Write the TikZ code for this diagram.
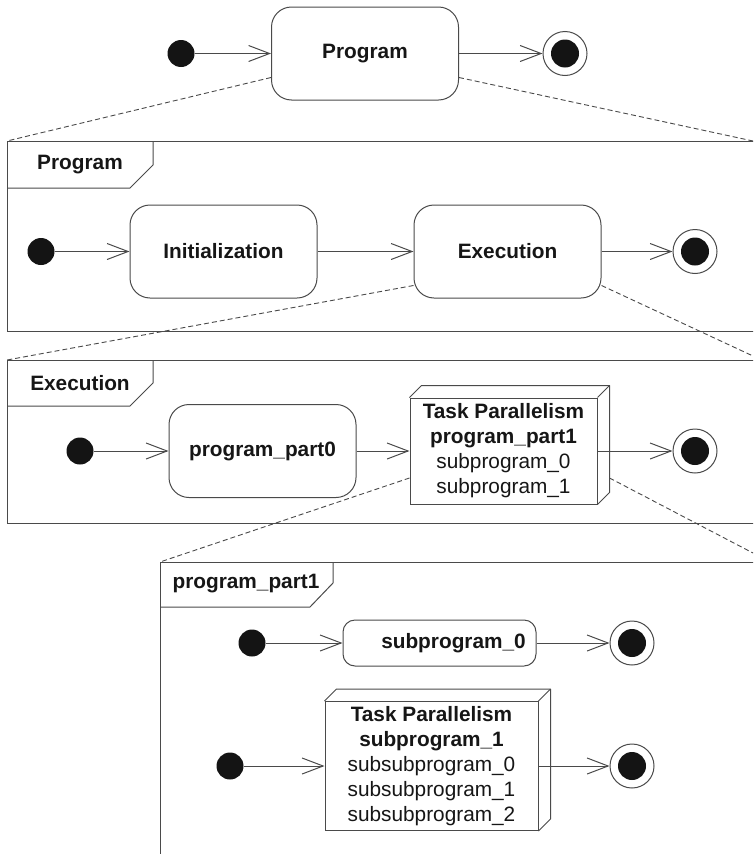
\documentclass[tikz,border=0pt]{standalone}
\usepackage{fontspec}
\setmainfont{Liberation Sans}
\usetikzlibrary{arrows.meta}
\definecolor{ln}{HTML}{4A4A4A}
\definecolor{dotc}{HTML}{141414}
\definecolor{txt}{HTML}{161616}
\begin{document}
\begin{tikzpicture}[x=1pt,y=-1pt,
  ink/.style={draw=ln, line width=1pt},
  statebox/.style={ink, rounded corners=20pt, fill=white, inner sep=0pt, text=txt,
    font=\bfseries\fontsize{20.8}{25}\selectfont, minimum width=187pt, minimum height=93pt},
  smallstate/.style={statebox, rounded corners=12pt, minimum width=193pt, minimum height=46pt},
  parbox/.style={ink, fill=white, inner sep=0pt, align=center, text=txt,
    font=\fontsize{20.8}{25}\selectfont},
  initst/.style={circle, fill=dotc, minimum size=27pt, inner sep=0pt},
  finalst/.style={circle, ink, fill=white, minimum size=44pt, inner sep=0pt,
    path picture={\fill[dotc] (path picture bounding box.center) circle (14pt);}},
  trans/.style={ink, -{Straight Barb[length=21pt,width=16pt]}},
  zoomline/.style={ink, line width=0.9pt, dash pattern=on 5pt off 3pt},
  tablabel/.style={text=txt, inner sep=0pt, font=\bfseries\fontsize{20.8}{25}\selectfont}]

\useasboundingbox (0,0) rectangle (753,854);
\clip (0,0) rectangle (753,854);

% ---------- top level ----------
\node[initst] (d0) at (181,53.5) {};
\node[statebox] (prog) at (365,53.5) {Program};
\node[finalst] (f0) at (565,53.5) {};
\draw[trans] (d0) -- (prog);
\draw[trans] (prog) -- (f0);

% ---------- frame: Program ----------
\coordinate (fA) at (7,141);
\coordinate (fAr) at (770,331);
\coordinate (fAedge) at (753,141);
\draw[ink] (fA) rectangle (fAr);
\draw[ink] (153,141) -- (153,165) -- (130,188) -- (7,188);
\node[tablabel] (labA) at (80,165) {Program};
\draw[zoomline] ([yshift=-24pt]prog.west) -- (fA);
\draw[zoomline] ([yshift=-24pt]prog.east) -- (fAedge);

\node[initst] (d1) at (41,251.5) {};
\node[statebox] (init) at (223.5,251.5) {Initialization};
\node[statebox] (exec) at (507.5,251.5) {Execution};
\node[finalst] (f1) at (695,251.5) {};
\draw[trans] (d1) -- (init);
\draw[trans] (init) -- (exec);
\draw[trans] (exec) -- (f1);

% ---------- frame: Execution ----------
\coordinate (fB) at (7,360);
\coordinate (fBr) at (770,523);
\coordinate (fBedge) at (753,356);
\draw[ink] (fB) rectangle (fBr);
\draw[ink] (153,360) -- (153,383) -- (130,406) -- (7,406);
\node[tablabel] (labB) at (80,383) {Execution};
\draw[zoomline] ([yshift=-34pt]exec.west) -- (fB);
\draw[zoomline] ([yshift=-34pt]exec.east) -- (fBedge);

\node[initst] (d2) at (80,451) {};
\node[statebox] (part0) at (262.5,451) {program\_part0};
\node[parbox, minimum width=187pt, minimum height=106pt] (tp) at (503.5,451)
  {\textbf{Task Parallelism}\\\textbf{program\_part1}\\subprogram\_0\\subprogram\_1};
\draw[ink, line join=round] (tp.north west) -- ++(12,-12) -- ([xshift=12pt,yshift=12pt]tp.north east)
  -- ([xshift=12pt,yshift=12pt]tp.south east) -- (tp.south east);
\draw[ink] (tp.north east) -- ([xshift=12pt,yshift=12pt]tp.north east);
\node[finalst] (f2) at (695,451) {};
\draw[trans] (d2) -- (part0);
\draw[trans] (part0) -- (tp);
\draw[trans] (tp) -- (f2);

% ---------- frame: program_part1 ----------
\coordinate (fC) at (160,562);
\coordinate (fCr) at (770,880);
\coordinate (fCedge) at (753,553);
\draw[ink] (fC) rectangle (fCr);
\draw[ink] (333,562) -- (333,583) -- (310,607) -- (160,607);
\node[tablabel] (labC) at (246,584) {program\_part1};
\draw[zoomline] ([yshift=-27pt]tp.west) -- (fC);
\draw[zoomline] ([xshift=12pt,yshift=-27pt]tp.east) -- (fCedge);

\node[initst] (d3) at (252,643) {};
% label sits slightly right of the box centre
\node[smallstate] (sub0) at (439.5,643) {\hspace*{28pt}subprogram\_0};
\node[finalst] (f3) at (632,643) {};
\draw[trans] (d3) -- (sub0);
\draw[trans] (sub0) -- (f3);

\node[initst] (d4) at (230,766) {};
\node[parbox, minimum width=213pt, minimum height=129pt] (sp) at (431.5,766)
  {\textbf{Task Parallelism}\\\textbf{subprogram\_1}\\subsubprogram\_0\\subsubprogram\_1\\subsubprogram\_2};
\draw[ink, line join=round] (sp.north west) -- ++(12,-12) -- ([xshift=12pt,yshift=12pt]sp.north east)
  -- ([xshift=12pt,yshift=12pt]sp.south east) -- (sp.south east);
\draw[ink] (sp.north east) -- ([xshift=12pt,yshift=12pt]sp.north east);
\node[finalst] (f4) at (632,766) {};
\draw[trans] (d4) -- (sp);
\draw[trans] (sp) -- (f4);
\end{tikzpicture}
\end{document}
